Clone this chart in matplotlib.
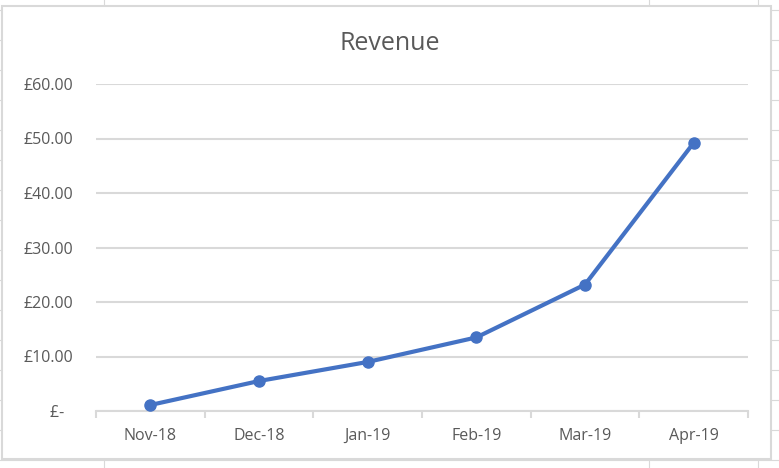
import matplotlib.pyplot as plt
from matplotlib.lines import Line2D
from matplotlib.patches import Rectangle

months = ["Nov-18", "Dec-18", "Jan-19", "Feb-19", "Mar-19", "Apr-19"]
revenue = [1.1, 5.5, 9.0, 13.5, 23.2, 49.2]
y_ticks = [0, 10, 20, 30, 40, 50, 60]
# accounting format: zero shown as a dash, padded on the right
y_labels = ["£-  ", "£10.00", "£20.00", "£30.00", "£40.00", "£50.00", "£60.00"]

W, H = 779, 468
GRID = "#d9d9d9"
TEXT = "#595959"
BLUE = "#4472c4"

plt.rcParams["font.family"] = ["Open Sans", "DejaVu Sans"]

fig = plt.figure(figsize=(W / 100, H / 100), dpi=100)


def fx(px):
    return px / W


def fy(py):
    return 1 - py / H


# faint spreadsheet cell lines behind the chart
for x in [104, 649, 758]:
    fig.add_artist(Line2D([fx(x), fx(x)], [0, 1], color=GRID, lw=0.8, zorder=0))
for y in range(10, H, 30):
    fig.add_artist(Line2D([0, 1], [fy(y), fy(y)], color=GRID, lw=0.8, zorder=0))

# chart area
fig.add_artist(Rectangle((fx(2), fy(459)), fx(769), 453 / H, transform=fig.transFigure,
                         facecolor="white", edgecolor=GRID, lw=1.5, zorder=1))

ax = fig.add_axes([fx(96), fy(411), fx(652), (411 - 84) / H], zorder=2)
ax.set_facecolor("none")

x = list(range(len(months)))
ax.plot(x, revenue, color=BLUE, lw=3, marker="o", markersize=8, zorder=3,
        solid_capstyle="round")

ax.set_xlim(-0.5, len(months) - 0.5)
ax.set_ylim(0, 60)
ax.set_yticks(y_ticks)
ax.set_yticklabels(y_labels)
ax.set_xticks(x)
ax.set_xticklabels(months)
ax.set_xticks([i - 0.5 for i in range(len(months) + 1)], minor=True)

ax.grid(axis="y", color=GRID, lw=1.5)
ax.set_axisbelow(True)
for side in ["top", "right", "left"]:
    ax.spines[side].set_visible(False)
ax.spines["bottom"].set_color(GRID)
ax.spines["bottom"].set_linewidth(1.5)

ax.tick_params(axis="y", length=0, pad=(96 - 73) * 0.72, labelsize=11.5, labelcolor=TEXT)
ax.tick_params(axis="x", which="major", length=0, pad=12, labelsize=11.5, labelcolor=TEXT)
ax.tick_params(axis="x", which="minor", length=5, width=1.5, color=GRID)

fig.text(fx(390), fy(43), "Revenue", ha="center", va="center", fontsize=18, color=TEXT)

fig.savefig("out.png", dpi=100)
